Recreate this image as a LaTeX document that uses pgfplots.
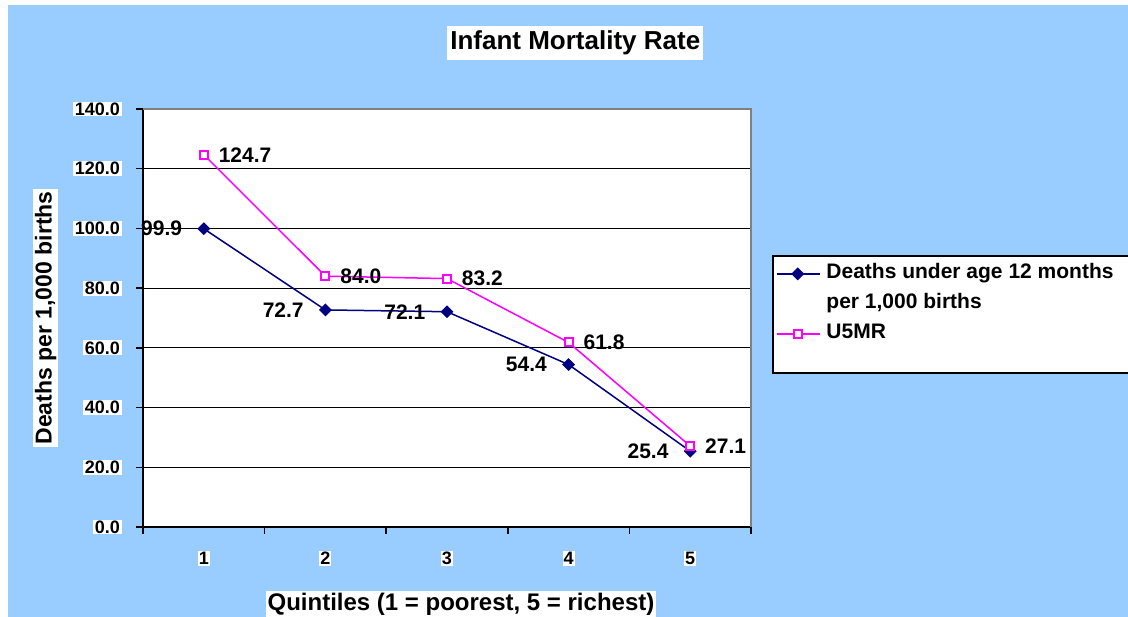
\documentclass[border=0pt]{standalone}
\usepackage{pgfplots}
\pgfplotsset{compat=1.18}
\usepackage{fontspec}
\setmainfont{Liberation Sans}
\definecolor{bgblue}{HTML}{99CCFF}
\definecolor{navy}{HTML}{000080}
\definecolor{mag}{HTML}{FF00FF}
\tikzset{row 4/.style={nodes={text height=11pt, text depth=0pt}}}
\begin{document}
\begin{tikzpicture}[x=1pt,y=1pt]
\useasboundingbox (0,0) rectangle (1128,617);
\fill[white] (0,0) rectangle (1128,617);
\fill[bgblue] (8,0) rectangle (1128,612);
\begin{axis}[
  at={(143pt,90pt)}, anchor=south west,
  scale only axis, width=608pt, height=418pt,
  xmin=0.5, xmax=5.5, ymin=0, ymax=140,
  clip=false,
  axis background/.style={fill=white},
  axis x line*=bottom, axis y line*=left,
  axis line style={black, line width=2pt},
  /pgf/number format/assume math mode=true,
  ytick={0,20,...,140},
  ymajorgrids, major grid style={black, line width=1pt},
  tick align=outside, major tick length=7pt,
  ytick style={black, line width=1.5pt},
  xtick={1,2,3,4,5},
  xtick style={draw=none},
  extra x ticks={0.5,1.5,2.5,3.5,4.5,5.5},
  extra x tick labels={},
  extra x tick style={grid=none, xtick style={draw=black, line width=1.5pt}, xticklabel style={fill=none}},
  xticklabel style={fill=white, inner sep=1pt, font=\bfseries\fontsize{18}{20}\selectfont, yshift=-17pt},
  yticklabel style={fill=white, inner xsep=2pt, inner ysep=1pt, font=\bfseries\fontsize{18}{20}\selectfont, xshift=-14pt,
     /pgf/number format/.cd, fixed, fixed zerofill, precision=1},
  title={Infant Mortality Rate},
  title style={at={(axis description cs:0.711,1.143)}, anchor=center, fill=white, inner xsep=3pt, inner ysep=5pt, font=\bfseries\fontsize{26}{30}\selectfont},
  xlabel={Quintiles (1 = poorest, 5 = richest)},
  xlabel style={at={(axis description cs:0.523,-0.185)}, anchor=center, fill=white, inner sep=2pt, font=\bfseries\fontsize{24}{27}\selectfont},
  ylabel={Deaths per 1,000 births},
  ylabel style={at={(axis description cs:-0.160,0.5)}, anchor=center, fill=white, inner sep=2pt, font=\bfseries\fontsize{23}{26}\selectfont},
  legend style={at={(axis description cs:1.0345,0.651)}, anchor=north west, draw=black, line width=2pt, fill=white,
     font=\bfseries\fontsize{21}{24}\selectfont, inner xsep=3pt, inner ysep=6pt, row sep=6pt,
     nodes={text height=15pt, text depth=5pt}},
  legend cell align=left,
  legend image code/.code={\draw[mark repeat=2,mark phase=2] plot coordinates {(0pt,0pt) (21pt,0pt) (43pt,0pt)};},
]
\addplot[navy, line width=1.5pt, mark=square*, mark options={rotate=45, fill=navy, draw=navy}, mark size=3.8pt,
  nodes near coords={\pgfmathprintnumber[fixed,fixed zerofill,precision=1]{\pgfplotspointmeta}},
  nodes near coords style={anchor=east, xshift=-21pt, inner sep=0pt, text=black, font=\bfseries\fontsize{21}{24}\selectfont}]
  coordinates {(1,99.9) (2,72.7) (3,72.1) (4,54.4) (5,25.4)};
\addlegendentry{\hspace*{4pt}Deaths under age 12 months\hspace*{40pt}}
\addlegendimage{empty legend}
\addlegendentry{\hspace*{4pt}per 1,000 births}
\addplot[mag, line width=1.5pt, mark=square*, mark options={fill=white, draw=mag, line width=2pt}, mark size=4pt,
  nodes near coords={\pgfmathprintnumber[fixed,fixed zerofill,precision=1]{\pgfplotspointmeta}},
  nodes near coords style={anchor=west, xshift=14pt, inner sep=0pt, text=black, font=\bfseries\fontsize{21}{24}\selectfont}]
  coordinates {(1,124.7) (2,84.0) (3,83.2) (4,61.8) (5,27.1)};
\addlegendentry{\hspace*{4pt}U5MR}
\addlegendimage{empty legend}
\addlegendentry{}
\draw[gray, line width=2pt] (rel axis cs:0,1) -- (rel axis cs:1,1) -- (rel axis cs:1,0);
\end{axis}
\end{tikzpicture}
\end{document}
